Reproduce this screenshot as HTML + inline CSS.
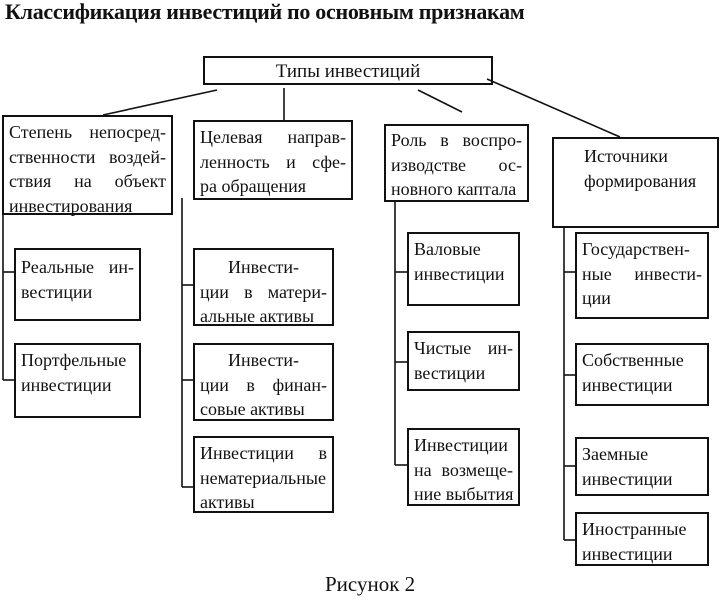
<!DOCTYPE html>
<html><head><meta charset="utf-8"><style>
body{margin:0;width:721px;height:600px;background:#fff;position:relative;overflow:hidden;font-family:"Liberation Serif",serif;color:#111}
.b{position:absolute;border:2px solid #111;box-sizing:border-box;font-size:18px;line-height:24.5px;padding:2px 5px;white-space:nowrap}
.j{text-align:justify;text-align-last:justify}
.c{text-align:center}
svg{position:absolute;left:0;top:0}
</style></head><body>
<div style="position:absolute;left:5px;top:-1px;font-weight:bold;font-size:22px;letter-spacing:-0.3px">Классификация инвестиций по основным признакам</div>
<svg width="721" height="600" stroke="#111" stroke-width="1.6" fill="none">
<line x1="217" y1="90" x2="103" y2="115"/>
<line x1="284" y1="88" x2="284" y2="121"/>
<line x1="418" y1="90" x2="462" y2="112"/>
<line x1="487" y1="79" x2="620" y2="137"/>
<line x1="3" y1="214" x2="3" y2="380"/>
<line x1="3" y1="272" x2="14" y2="272"/>
<line x1="3" y1="380" x2="14" y2="380"/>
<line x1="182" y1="198" x2="182" y2="487"/>
<line x1="182" y1="285" x2="193" y2="285"/>
<line x1="182" y1="380" x2="193" y2="380"/>
<line x1="182" y1="487" x2="193" y2="487"/>
<line x1="395" y1="200" x2="395" y2="465"/>
<line x1="395" y1="272" x2="407" y2="272"/>
<line x1="395" y1="362" x2="407" y2="362"/>
<line x1="395" y1="465" x2="407" y2="465"/>
<line x1="564" y1="227" x2="564" y2="540"/>
<line x1="564" y1="272" x2="575" y2="272"/>
<line x1="564" y1="375" x2="575" y2="375"/>
<line x1="564" y1="466" x2="575" y2="466"/>
<line x1="564" y1="540" x2="575" y2="540"/>
</svg>
<div class="b c" style="left:203px;top:56px;width:290px;height:29px;line-height:23px;font-size:19px">Типы инвестиций</div>
<div class="b" style="left:2px;top:115px;width:171px;height:100px;padding-top:3px"><div class="j">Степень непосред-</div><div class="j">ственности воздей-</div><div class="j">ствия на объект</div><div>инвестирования</div></div>
<div class="b" style="left:193px;top:120px;width:160px;height:80px;padding-top:3px"><div class="j">Целевая направ-</div><div class="j">ленность и сфе-</div><div>ра обращения</div></div>
<div class="b" style="left:384px;top:124px;width:145px;height:78px;padding-top:2px"><div class="j">Роль в воспро-</div><div class="j">изводстве ос-</div><div>новного каптала</div></div>
<div class="b" style="left:552px;top:137px;width:167px;height:91px;padding:5px 0 0 30px"><div>Источники</div><div>формирования</div></div>
<div class="b" style="left:14px;top:248px;width:127px;height:73px;padding-top:5px"><div class="j">Реальные ин-</div><div>вестиции</div></div>
<div class="b" style="left:14px;top:343px;width:127px;height:75px;padding-top:3px"><div>Портфельные</div><div>инвестиции</div></div>
<div class="b" style="left:193px;top:248px;width:141px;height:78px;padding-top:5px"><div class="c">Инвести-</div><div class="j">ции в матери-</div><div>альные активы</div></div>
<div class="b" style="left:193px;top:343px;width:141px;height:78px;padding-top:3px"><div class="c">Инвести-</div><div class="j">ции в финан-</div><div>совые активы</div></div>
<div class="b" style="left:193px;top:436px;width:141px;height:77px;padding-top:3px"><div class="j">Инвестиции в</div><div>нематериальные</div><div>активы</div></div>
<div class="b" style="left:407px;top:232px;width:113px;height:74px;padding-top:3px"><div>Валовые</div><div>инвестиции</div></div>
<div class="b" style="left:407px;top:331px;width:113px;height:60px;padding-top:3px"><div class="j">Чистые ин-</div><div>вестиции</div></div>
<div class="b" style="left:407px;top:428px;width:113px;height:78px;padding-top:3px"><div>Инвестиции</div><div class="j">на возмеще-</div><div>ние выбытия</div></div>
<div class="b" style="left:575px;top:232px;width:134px;height:87px;padding-top:3px"><div>Государствен-</div><div class="j">ные инвести-</div><div>ции</div></div>
<div class="b" style="left:575px;top:343px;width:134px;height:63px;padding-top:3px"><div>Собственные</div><div>инвестиции</div></div>
<div class="b" style="left:575px;top:437px;width:134px;height:59px;padding-top:3px"><div>Заемные</div><div>инвестиции</div></div>
<div class="b" style="left:575px;top:512px;width:134px;height:54px;padding-top:3px"><div>Иностранные</div><div>инвестиции</div></div>
<div style="position:absolute;left:325px;top:572px;font-size:21px">Рисунок 2</div>
</body></html>
